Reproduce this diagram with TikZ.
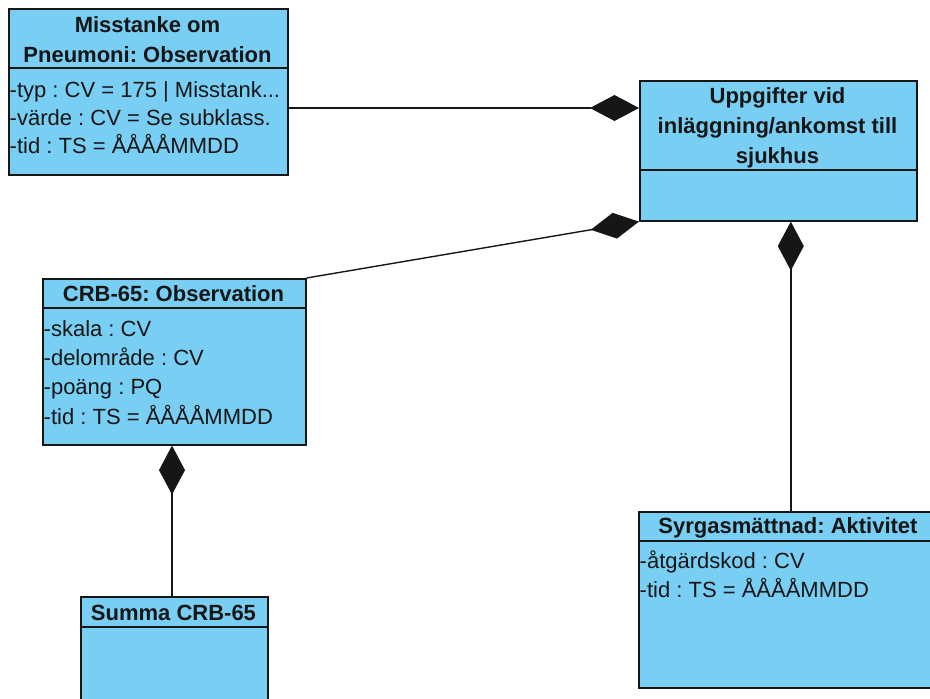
\documentclass[tikz,border=0pt]{standalone}
\usepackage{fontspec}
\setmainfont{Liberation Sans}
\usetikzlibrary{arrows.meta}
\frenchspacing
\definecolor{classfill}{RGB}{121,206,243}
\definecolor{ink}{RGB}{22,22,22}
\tikzset{
  cls/.style={draw=ink, line width=1.6pt, fill=classfill, anchor=north west, inner sep=0pt},
  divider/.style={draw=ink, line width=1.6pt},
  title/.style={font=\fontsize{22}{29}\selectfont\bfseries, text=ink, inner sep=0pt,
                text height=15.5pt, text depth=0pt},
  attr/.style={font=\fontsize{22}{29}\selectfont, text=ink, inner sep=0pt, anchor=west,
               text height=15.5pt, text depth=0pt},
  comp/.style={draw=ink, line width=1.4pt, -{Diamond[length=49pt,width=26pt]}},
}
\begin{document}
\begin{tikzpicture}[x=1pt,y=-1pt]
\useasboundingbox (0,0) rectangle (930,699);
\clip (0,0) rectangle (930,699);

% ---- class boxes ----
\node[cls, minimum width=279pt, minimum height=166pt] (misst) at (8,8) {};
\node[cls, minimum width=277pt, minimum height=140pt] (upp) at (639,80) {};
\node[cls, minimum width=263pt, minimum height=166pt] (crb) at (42,278) {};
\node[cls, minimum width=187pt, minimum height=130pt] (summa) at (80,596) {};
\node[cls, minimum width=304pt, minimum height=176pt] (syr) at (638,511) {};

% ---- compartment dividers ----
\draw[divider] (misst.west |- 0,68) -- (misst.east |- 0,68);
\draw[divider] (upp.west |- 0,170) -- (upp.east |- 0,170);
\draw[divider] (crb.west |- 0,308) -- (crb.east |- 0,308);
\draw[divider] (summa.west |- 0,627) -- (summa.east |- 0,627);
\draw[divider] (syr.west |- 0,541) -- (syr.east |- 0,541);

% ---- class names ----
\node[title] (misst-t1) at (147.5,24.5) {Misstanke om};
\node[title] (misst-t2) at (147.5,54.5) {Pneumoni: Observation};
\node[title] (upp-t1) at (777.5,96) {Uppgifter vid};
\node[title] (upp-t2) at (777.5,126) {inläggning/ankomst till};
\node[title] (upp-t3) at (777.5,155.5) {sjukhus};
\node[title] (crb-t) at (173.5,294) {CRB-65: Observation};
\node[title] (summa-t) at (173.5,612.5) {Summa CRB-65};
\node[title] (syr-t) at (788,525.5) {Syrgasmättnad: Aktivitet};

% ---- attributes ----
\node[attr] (misst-a1) at (9.5,89.5) {-typ : CV = 175 | Misstank...};
\node[attr] (misst-a2) at (9.5,117.5) {-värde : CV = Se subklass.};
\node[attr] (misst-a3) at (9.5,146) {-tid : TS = ÅÅÅÅMMDD};

\node[attr] (crb-a1) at (43.5,328.5) {-skala : CV};
\node[attr] (crb-a2) at (43.5,357.5) {-delområde : CV};
\node[attr] (crb-a3) at (43.5,387) {-poäng : PQ};
\node[attr] (crb-a4) at (43.5,416.5) {-tid : TS = ÅÅÅÅMMDD};

\node[attr] (syr-a1) at (639.5,560.5) {-åtgärdskod : CV};
\node[attr] (syr-a2) at (639.5,590) {-tid : TS = ÅÅÅÅMMDD};

% ---- composition connectors (diamond at the whole) ----
\draw[comp] (misst.east |- 0,108) -- (upp.west |- 0,108);
\draw[comp] (crb.north east) -- (upp.south west);
\draw[comp] (syr.north) -- (syr.north |- upp.south);
\draw[comp] (summa.north -| 172,0) -- (crb.south -| 172,0);
\end{tikzpicture}
\end{document}
